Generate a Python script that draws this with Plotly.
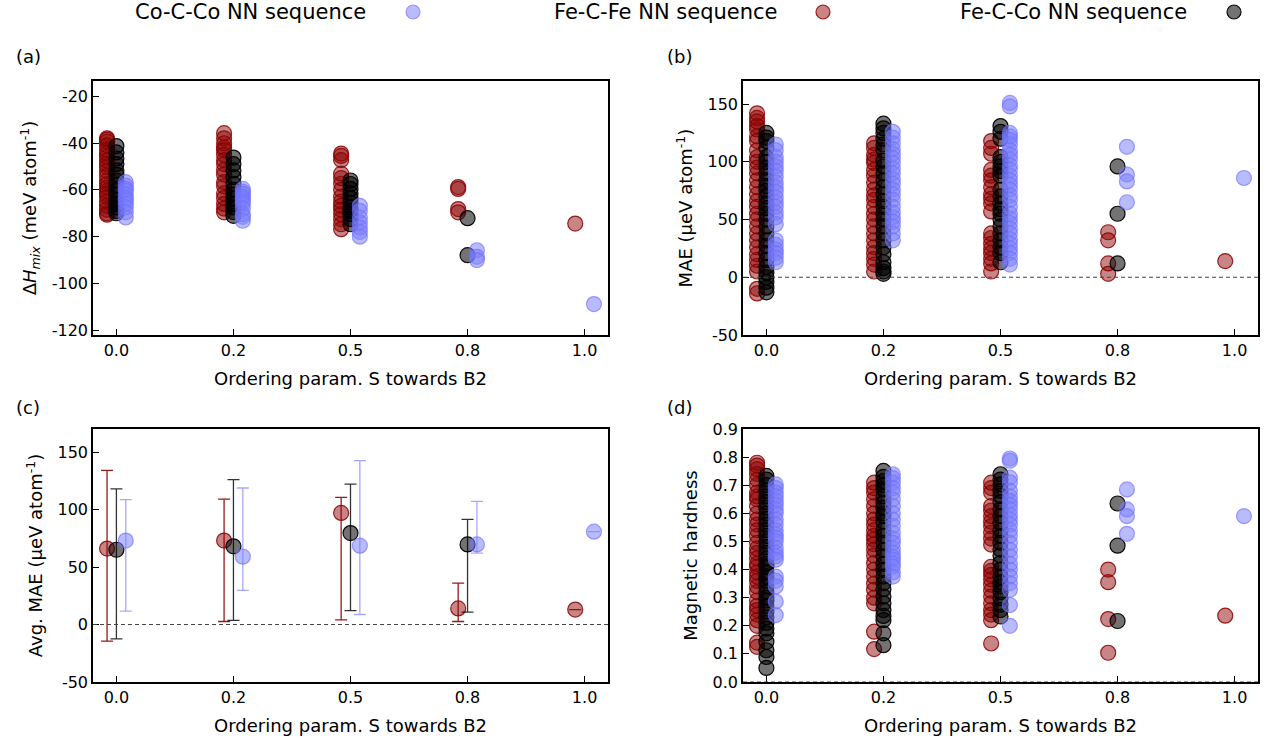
import plotly.graph_objects as go

# ---------------- data ----------------
S_LABELS = ["0.0", "0.2", "0.5", "0.8", "1.0"]

# (a) mixing enthalpy (meV/atom), one list per S value
dH_FeFe = [[-38, -38.5, -39.4, -41, -43, -44.5, -45.9, -47.5, -49, -50.2, -52, -54, -56, -57.5, -59, -60.5,
            -61.7, -63, -65, -66.8, -68.5, -70, -70.6],
           [-35.8, -38, -40.1, -42, -43, -45, -47.3, -49, -51.5, -53.5, -56.7, -58.5, -61.5, -63.5, -66, -68, -69.6],
           [-44.5, -45.5, -47.3, -53.1, -55, -57.4, -60, -62.9, -65, -66.8, -68.5, -70.4, -72.5, -74.7, -76.8],
           [-58.8, -59.6, -68.2, -69.6],
           [-74.4]]
dH_FeCo = [[-41.3, -44, -46.6, -49, -51.7, -53.5, -56, -58, -60.3, -62, -64.6, -66, -67.5, -69, -70],
           [-46.2, -49, -51.7, -54.5, -57.4, -60, -62, -63.9, -66, -67.5, -69.5, -71.1],
           [-56, -57.5, -59.6, -61.5, -63.5, -65.5, -67.5, -69, -70.4, -72.5, -74.7],
           [-72.1, -87.9],
           []]
dH_CoCo = [[-56.7, -58.2, -59.5, -60.3, -62, -63.5, -64.6, -66, -67.5, -69.6, -71.8],
           [-59.6, -60.8, -61.7, -63, -63.9, -65, -66, -68, -70.4, -71.5, -73.2],
           [-66.8, -69, -71.8, -74, -76.1, -78, -80],
           [-85.8, -88.6, -90],
           [-108.8]]

# (b) MAE (ueV/atom)
mae_FeFe = [[142, 138, 135, 131, 128, 122, 118, 110, 104, 100, 95, 90, 84, 78, 72, 66, 61, 55, 50, 44, 38, 32,
             26, 20, 15, 10, 5, -10, -14],
            [116, 112, 106, 102, 99, 93, 88, 82, 76, 71, 67, 61, 55, 50, 44, 38, 32, 26, 21, 16, 11, 5],
            [118, 112, 107, 93, 88, 84, 78, 72, 68, 64, 57, 38, 34, 29, 25, 21, 16, 12, 5],
            [39, 32, 12, 3],
            [14]]
mae_FeCo = [[125, 121, 118, 112, 104, 100, 95, 90, 84, 79, 75, 70, 64, 60, 55, 50, 44, 38, 32, 27, 21, 15, 9,
             4, 0, -4, -9, -13],
            [133, 129, 125, 120, 115, 110, 101, 96, 90, 84, 78, 72, 66, 61, 55, 50, 44, 38, 32, 26, 20, 13, 8, 5, 3],
            [131, 126, 120, 104, 100, 96, 92, 88, 76, 70, 64, 59, 55, 50, 44, 38, 32, 26, 21, 13],
            [96, 55, 12],
            []]
mae_CoCo = [[115, 110, 104, 100, 96, 92, 87, 82, 78, 74, 69, 65, 61, 56, 52, 46, 32, 28, 24, 21, 17, 13],
            [126, 121, 116, 111, 107, 103, 99, 94, 90, 85, 81, 76, 72, 67, 61, 56, 52, 48, 44, 38, 32],
            [151, 148, 125, 122, 119, 115, 110, 106, 102, 97, 93, 88, 84, 80, 76, 71, 67, 61, 55, 51, 47, 42,
             38, 33, 29, 25, 21, 16, 11],
            [113, 89, 83, 65],
            [86]]

# (c) averaged MAE with upper / lower bar ends (ueV/atom)
avg_FeFe = [66, 73, 97, 14, 13]
hi_FeFe = [134, 109, 110.5, 36, None]
lo_FeFe = [-14.5, 2.6, 4.1, 2.6, None]
avg_FeCo = [65, 68, 79.5, 69.6, None]
hi_FeCo = [118, 126, 122, 91.4, None]
lo_FeCo = [-12.5, 3.5, 12, 10.7, None]
avg_CoCo = [73, 59, 68.5, 69.6, 80.7]
hi_CoCo = [108.5, 118.7, 142.5, 107, None]
lo_CoCo = [11.6, 29.6, 8.7, 62, None]

# (d) magnetic hardness
mh_FeFe = [[0.78, 0.77, 0.757, 0.74, 0.72, 0.70, 0.674, 0.66, 0.65, 0.626, 0.60, 0.578, 0.56, 0.54, 0.52, 0.495,
            0.475, 0.459, 0.44, 0.42, 0.41, 0.39, 0.375, 0.36, 0.34, 0.32, 0.29, 0.27, 0.256, 0.24, 0.22, 0.20,
            0.14, 0.125],
           [0.709, 0.69, 0.674, 0.65, 0.626, 0.60, 0.578, 0.56, 0.54, 0.52, 0.507, 0.49, 0.471, 0.45, 0.423, 0.40,
            0.375, 0.35, 0.328, 0.30, 0.28, 0.179, 0.117],
           [0.709, 0.69, 0.674, 0.626, 0.61, 0.59, 0.57, 0.554, 0.531, 0.51, 0.489, 0.41, 0.395, 0.381, 0.365,
            0.346, 0.325, 0.304, 0.28, 0.256, 0.24, 0.22, 0.137],
           [0.4, 0.355, 0.224, 0.104],
           [0.236]]
mh_FeCo = [[0.733, 0.72, 0.70, 0.68, 0.66, 0.64, 0.62, 0.60, 0.58, 0.56, 0.54, 0.52, 0.50, 0.48, 0.459, 0.44,
            0.42, 0.41, 0.39, 0.375, 0.36, 0.34, 0.32, 0.30, 0.29, 0.27, 0.25, 0.23, 0.21, 0.19, 0.173, 0.143,
            0.113, 0.089, 0.05],
           [0.751, 0.73, 0.715, 0.70, 0.685, 0.66, 0.638, 0.62, 0.60, 0.59, 0.57, 0.54, 0.52, 0.495, 0.47, 0.447,
            0.42, 0.399, 0.375, 0.352, 0.33, 0.304, 0.28, 0.256, 0.235, 0.22, 0.173, 0.131],
           [0.739, 0.72, 0.703, 0.68, 0.662, 0.64, 0.614, 0.59, 0.566, 0.54, 0.519, 0.495, 0.471, 0.45, 0.423,
            0.40, 0.375, 0.355, 0.34, 0.32, 0.298, 0.275, 0.256, 0.233],
           [0.635, 0.485, 0.217],
           []]
mh_CoCo = [[0.703, 0.69, 0.674, 0.66, 0.644, 0.63, 0.614, 0.60, 0.578, 0.56, 0.54, 0.525, 0.513, 0.50, 0.477,
            0.46, 0.447, 0.435, 0.375, 0.36, 0.34, 0.286, 0.238],
           [0.739, 0.725, 0.709, 0.69, 0.674, 0.65, 0.626, 0.60, 0.578, 0.555, 0.531, 0.51, 0.495, 0.475, 0.459,
            0.445, 0.435, 0.42, 0.41, 0.39, 0.375],
           [0.795, 0.787, 0.727, 0.71, 0.68, 0.66, 0.644, 0.63, 0.614, 0.595, 0.578, 0.56, 0.54, 0.52, 0.495,
            0.47, 0.447, 0.42, 0.399, 0.375, 0.352, 0.328, 0.274, 0.2],
           [0.685, 0.614, 0.59, 0.527],
           [0.59]]

# tick values of the y axes
TICKS_DH = [-20, -40, -60, -80, -100, -120]
TICKS_MAE = [-50, 0, 50, 100, 150]
TICKS_MH = [0.0, 0.1, 0.2, 0.3, 0.4, 0.5, 0.6, 0.7, 0.8, 0.9]

# ---------------- styles ----------------
FONT = "DejaVu Sans"
STYLE = {
    "FeFe": dict(fill="rgba(139,0,0,0.48)", edge="rgba(139,0,0,0.85)", err="rgba(139,0,0,0.9)", off=-0.08),
    "FeCo": dict(fill="rgba(0,0,0,0.55)", edge="rgba(0,0,0,0.95)", err="rgba(0,0,0,0.8)", off=0.0),
    "CoCo": dict(fill="rgba(120,125,255,0.52)", edge="rgba(110,110,255,0.65)", err="rgba(120,120,255,0.65)",
                 off=0.08),
}
MSIZE = 15

fig = go.Figure()


def scatter_groups(groups, key, xa, ya):
    st = STYLE[key]
    xs, ys = [], []
    for i, vals in enumerate(groups):
        for v in vals:
            xs.append(i + st["off"])
            ys.append(v)
    fig.add_trace(go.Scatter(
        x=xs, y=ys, mode="markers", xaxis=xa, yaxis=ya, showlegend=False,
        marker=dict(size=MSIZE, color=st["fill"], line=dict(color=st["edge"], width=1.2)),
        hoverinfo="y"))


for xa, ya, data in [("x", "y", (dH_FeFe, dH_FeCo, dH_CoCo)),
                     ("x2", "y2", (mae_FeFe, mae_FeCo, mae_CoCo)),
                     ("x4", "y4", (mh_FeFe, mh_FeCo, mh_CoCo))]:
    for key, groups in zip(["FeFe", "FeCo", "CoCo"], data):
        scatter_groups(groups, key, xa, ya)

# (c) averages with bars
for key, avg, hi, lo in [("FeFe", avg_FeFe, hi_FeFe, lo_FeFe),
                         ("FeCo", avg_FeCo, hi_FeCo, lo_FeCo),
                         ("CoCo", avg_CoCo, hi_CoCo, lo_CoCo)]:
    st = STYLE[key]
    xs, ys, up, dn = [], [], [], []
    for i, m in enumerate(avg):
        if m is None:
            continue
        xs.append(i + st["off"])
        ys.append(m)
        up.append(0 if hi[i] is None else hi[i] - m)
        dn.append(0 if lo[i] is None else m - lo[i])
    fig.add_trace(go.Scatter(
        x=xs, y=ys, mode="markers", xaxis="x3", yaxis="y3", showlegend=False,
        marker=dict(size=MSIZE, color=st["fill"], line=dict(color=st["edge"], width=1.2)),
        error_y=dict(type="data", symmetric=False, array=up, arrayminus=dn,
                     color=st["err"], thickness=1.3, width=6)))

# ---------------- layout ----------------
W, H = 1268, 745
XD = [[93 / W, 608 / W], [743 / W, 1258 / W]]
YD = [[1 - 335 / H, 1 - 81 / H], [1 - 682 / H, 1 - 429 / H]]

tickfont = dict(family=FONT, size=16, color="black")
titlefont = dict(family=FONT, size=18, color="black")

common_x = dict(range=[-0.2, 4.2], tickmode="array", tickvals=list(range(len(S_LABELS))),
                ticktext=S_LABELS, ticks="inside", ticklen=6, tickwidth=1.2, tickcolor="black",
                showline=True, linecolor="black", linewidth=1.5, mirror=True, showgrid=False,
                zeroline=False, tickfont=tickfont, automargin=False,
                title=dict(text="Ordering param. S towards B2", font=titlefont, standoff=13))
common_y = dict(ticks="inside", ticklen=6, tickwidth=1.2, tickcolor="black", tickmode="array",
                showline=True, linecolor="black", linewidth=1.5, mirror=True, showgrid=False,
                zeroline=False, tickfont=tickfont, automargin=False)


def labels(vals, fmt):
    return [fmt.format(v) for v in vals]


fig.update_layout(
    width=W, height=H, margin=dict(l=0, r=0, t=0, b=0),
    paper_bgcolor="white", plot_bgcolor="white", showlegend=False,
    font=dict(family=FONT, color="black"),
    xaxis=dict(domain=XD[0], anchor="y", **common_x),
    yaxis=dict(domain=YD[0], anchor="x", range=[-122, -13.5], tickvals=TICKS_DH,
               ticktext=labels(TICKS_DH, "{:d}"),
               title=dict(text="Δ<i>H</i><sub><i>mix</i></sub> (meV atom<sup>-1</sup>)", font=titlefont, standoff=10),
               **common_y),
    xaxis2=dict(domain=XD[1], anchor="y2", **common_x),
    yaxis2=dict(domain=YD[0], anchor="x2", range=[-50, 170], tickvals=TICKS_MAE,
                ticktext=labels(TICKS_MAE, "{:d}"),
                title=dict(text="MAE (μeV atom<sup>-1</sup>)", font=titlefont, standoff=10),
                **common_y),
    xaxis3=dict(domain=XD[0], anchor="y3", **common_x),
    yaxis3=dict(domain=YD[1], anchor="x3", range=[-50, 170], tickvals=TICKS_MAE,
                ticktext=labels(TICKS_MAE, "{:d}"),
                title=dict(text="Avg. MAE (μeV atom<sup>-1</sup>)", font=titlefont, standoff=10),
                **common_y),
    xaxis4=dict(domain=XD[1], anchor="y4", **common_x),
    yaxis4=dict(domain=YD[1], anchor="x4", range=[0, 0.9], tickvals=TICKS_MH,
                ticktext=labels(TICKS_MH, "{:.1f}"),
                title=dict(text="Magnetic hardness", font=titlefont, standoff=10),
                **common_y),
)

# dashed zero lines
for xr, yr in [("x2", "y2"), ("x3", "y3"), ("x4", "y4")]:
    fig.add_shape(type="line", xref=f"{xr} domain", yref=yr, x0=0, x1=1, y0=0, y1=0,
                  line=dict(color="#444444", width=1.2, dash="4px,3px"))

# panel labels
for lab, px, py in [("(a)", 14, 57), ("(b)", 665, 57), ("(c)", 14, 407), ("(d)", 665, 407)]:
    fig.add_annotation(text=lab, x=px / W, y=1 - py / H, xref="paper", yref="paper",
                       xanchor="left", yanchor="middle", showarrow=False, font=titlefont)

# legend (text then marker)
LEG = [("Co-C-Co NN sequence", "CoCo", 368, 413),
       ("Fe-C-Fe NN sequence", "FeFe", 779, 823),
       ("Fe-C-Co NN sequence", "FeCo", 1189, 1234)]
for text, key, tx, mx in LEG:
    fig.add_annotation(text=text, x=tx / W, y=1 - 12 / H, xref="paper", yref="paper",
                       xanchor="right", yanchor="middle", showarrow=False,
                       font=dict(family=FONT, size=21, color="black"))
    st = STYLE[key]
    fig.add_shape(type="circle", xref="paper", yref="paper", xsizemode="pixel", ysizemode="pixel",
                  xanchor=mx / W, yanchor=1 - 12 / H, x0=-7, x1=7, y0=-7, y1=7,
                  fillcolor=st["fill"], line=dict(color=st["edge"], width=1.2))

fig.write_html("out.html", config={"displayModeBar": False},
               post_script="document.body.style.margin='0';document.body.style.overflow='hidden';")
